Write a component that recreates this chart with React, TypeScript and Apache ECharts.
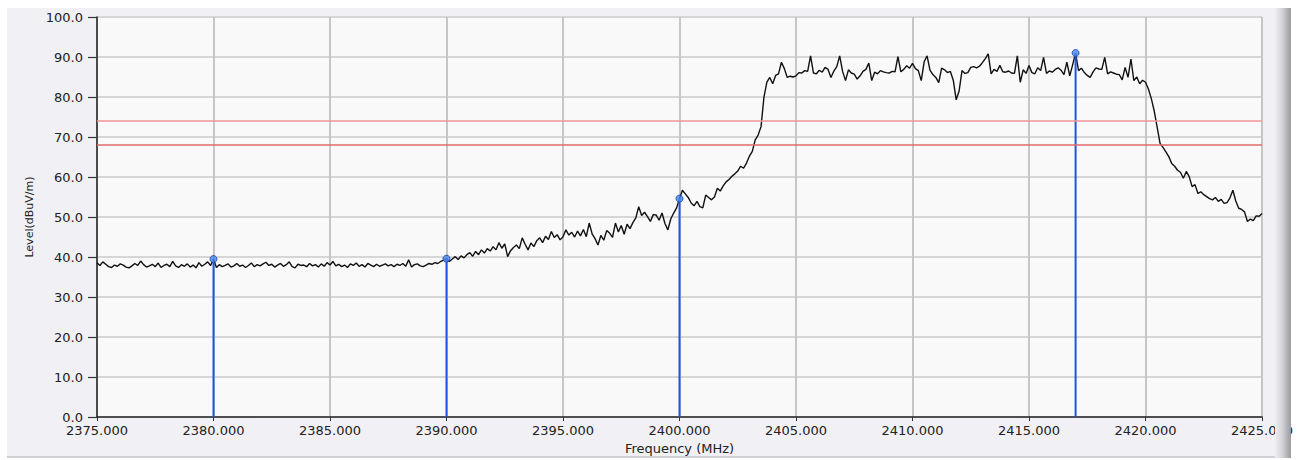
import React, { useEffect, useRef } from "react";
import * as echarts from "echarts";

// Spectrum trace: level (dBuV/m) sampled every 0.125 MHz from 2375 MHz (one row per MHz)
const freqStart = 2375;
const freqStep = 0.125;
const level: number[] = [
  38.6, 37.9, 38.8, 38.2, 37.6, 37.4, 38.0, 37.7, // 2375
  38.3, 38.0, 37.5, 37.3, 37.8, 38.4, 37.9, 39.0, // 2376
  38.1, 37.5, 37.8, 38.2, 37.6, 38.5, 37.4, 37.9, // 2377
  38.2, 37.6, 38.9, 37.8, 37.4, 38.1, 37.7, 38.3, // 2378
  37.5, 38.0, 37.3, 38.6, 37.7, 38.2, 38.8, 37.9, // 2379
  39.5, 37.4, 38.1, 37.6, 37.9, 38.3, 37.5, 37.8, // 2380
  38.4, 37.7, 38.0, 37.4, 37.9, 38.5, 37.6, 38.1, // 2381
  37.8, 38.3, 38.7, 37.9, 38.2, 37.5, 38.0, 38.4, // 2382
  37.7, 38.1, 38.8, 37.6, 37.3, 38.2, 37.9, 38.0, // 2383
  37.6, 38.4, 37.8, 38.1, 37.5, 38.3, 37.7, 38.6, // 2384
  38.0, 38.9, 37.8, 38.2, 37.6, 38.0, 37.4, 38.3, // 2385
  37.9, 38.5, 37.7, 38.1, 37.5, 38.4, 38.0, 37.6, // 2386
  38.2, 37.7, 38.0, 38.3, 37.8, 38.1, 37.6, 38.2, // 2387
  37.9, 38.4, 37.7, 39.3, 37.5, 38.1, 38.3, 37.8, // 2388
  37.6, 38.0, 38.4, 38.2, 38.6, 38.4, 38.9, 39.2, // 2389
  39.6, 38.9, 39.5, 40.1, 39.4, 40.3, 39.8, 40.6, // 2390
  41.1, 40.2, 41.4, 40.6, 41.8, 41.0, 42.1, 41.5, // 2391
  42.6, 41.8, 43.6, 42.2, 43.3, 40.1, 41.6, 42.4, // 2392
  43.0, 42.1, 44.8, 43.2, 41.8, 43.5, 42.6, 44.1, // 2393
  44.8, 43.6, 45.2, 44.4, 46.4, 44.9, 45.6, 44.3, // 2394
  45.1, 46.8, 45.5, 46.2, 45.0, 46.5, 45.3, 46.9, // 2395
  45.1, 48.5, 45.8, 44.6, 43.0, 45.4, 44.2, 46.6, // 2396
  46.0, 44.9, 48.5, 46.3, 47.9, 45.7, 48.2, 47.1, // 2397
  48.6, 49.8, 52.6, 50.4, 51.2, 50.1, 48.9, 50.6, // 2398
  50.5, 49.2, 51.0, 48.4, 46.8, 49.5, 51.0, 52.3, // 2399
  54.6, 56.7, 55.8, 54.9, 53.5, 52.8, 53.9, 52.6, // 2400
  52.3, 55.5, 54.9, 54.3, 55.0, 57.2, 56.5, 57.8, // 2401
  58.8, 59.4, 60.2, 60.8, 61.5, 62.7, 62.2, 63.5, // 2402
  65.2, 66.4, 69.3, 70.5, 72.6, 80.0, 83.7, 84.9, // 2403
  83.3, 85.4, 85.8, 88.7, 87.1, 84.9, 85.2, 85.0, // 2404
  85.3, 86.1, 86.0, 86.6, 86.4, 90.3, 86.0, 85.8, // 2405
  86.7, 86.2, 87.4, 86.9, 84.9, 86.5, 87.6, 90.3, // 2406
  86.4, 84.1, 86.8, 86.0, 85.7, 84.5, 85.3, 86.4, // 2407
  86.9, 88.5, 84.1, 86.2, 85.8, 86.6, 86.3, 86.1, // 2408
  86.0, 86.4, 86.3, 90.1, 86.3, 86.9, 87.8, 87.2, // 2409
  88.4, 87.1, 86.6, 84.1, 88.8, 90.3, 86.7, 85.6, // 2410
  84.9, 83.6, 87.2, 86.8, 86.1, 86.4, 84.2, 79.3, // 2411
  81.5, 86.6, 85.9, 86.1, 87.4, 87.6, 87.3, 87.7, // 2412
  88.6, 89.6, 90.8, 85.8, 86.9, 86.4, 87.9, 86.3, // 2413
  86.2, 86.5, 86.0, 85.9, 90.3, 83.7, 86.8, 85.9, // 2414
  87.9, 86.1, 85.8, 87.3, 86.6, 89.9, 85.9, 86.5, // 2415
  86.2, 86.9, 87.3, 86.7, 85.6, 88.7, 85.3, 88.1, // 2416
  91.0, 86.6, 87.2, 86.1, 85.4, 84.9, 86.3, 87.3, // 2417
  87.0, 86.9, 89.9, 85.8, 86.3, 86.0, 85.7, 85.6, // 2418
  84.3, 87.4, 84.9, 89.5, 84.1, 85.0, 83.3, 84.2, // 2419
  83.7, 82.0, 79.6, 76.5, 72.5, 68.4, 67.4, 66.3, // 2420
  65.1, 63.4, 62.7, 61.7, 61.2, 59.7, 61.4, 60.1, // 2421
  57.6, 58.1, 55.9, 56.3, 55.6, 55.1, 54.6, 54.3, // 2422
  54.9, 53.9, 54.4, 53.4, 53.6, 54.8, 56.7, 54.0, // 2423
  52.2, 51.9, 51.3, 48.9, 49.5, 49.1, 50.3, 50.2, // 2424
  50.9, // 2425
];

// Marker positions (MHz) and levels (dBuV/m)
const markerFreqs = [2380, 2390, 2400, 2417];
const markerLevels = [39.5, 39.6, 54.6, 91.0];

// Limit lines (dBuV/m)
const limitLevels = [74, 68];
const limitColors = ["#f29494", "#e06a6a"];

// Axis settings
const xMin = 2375;
const xMax = 2425;
const xInterval = 5;
const yMin = 0;
const yMax = 100;
const yInterval = 10;

const FONT = "DejaVu Sans";

export default function App() {
  const ref = useRef<HTMLDivElement>(null);

  useEffect(() => {
    if (!ref.current) return;
    const chart = echarts.init(ref.current, undefined, { renderer: "svg" });

    const traceData = level.map((v, i) => [freqStart + i * freqStep, v]);

    const markerLineSeries = markerFreqs.map((f, i) => ({
      type: "line",
      data: [
        [f, yMin],
        [f, markerLevels[i]],
      ],
      symbol: "none",
      lineStyle: { color: "#1f55e0", width: 2 },
      silent: true,
      z: 3,
    }));

    const option: any = {
      animation: false,
      backgroundColor: "transparent",
      grid: {
        left: 97,
        right: 39,
        top: 17,
        bottom: 42,
        show: true,
        backgroundColor: "#f9f9f9",
        borderColor: "#7a7a7a",
        borderWidth: 1,
      },
      xAxis: {
        type: "value",
        min: xMin,
        max: xMax,
        interval: xInterval,
        name: "Frequency (MHz)",
        nameLocation: "middle",
        nameGap: 24,
        nameTextStyle: { fontFamily: FONT, fontSize: 13, color: "#222" },
        axisLine: { show: true, onZero: false, lineStyle: { color: "#222", width: 1.5 } },
        axisTick: { show: true, length: 4, lineStyle: { color: "#333" } },
        axisLabel: {
          margin: 7,
          fontFamily: FONT,
          fontSize: 13,
          color: "#222",
          formatter: (v: number) => v.toFixed(3),
        },
        splitLine: { show: true, lineStyle: { color: "#c6c6c6", width: 2 } },
      },
      yAxis: {
        type: "value",
        min: yMin,
        max: yMax,
        interval: yInterval,
        name: "Level(dBuV/m)",
        nameLocation: "middle",
        nameGap: 62,
        nameTextStyle: { fontFamily: FONT, fontSize: 11, color: "#222" },
        axisLine: { show: true, lineStyle: { color: "#222", width: 1.5 } },
        axisTick: { show: true, length: 9, lineStyle: { color: "#333", width: 1.2 } },
        axisLabel: {
          margin: 14,
          fontFamily: FONT,
          fontSize: 13,
          color: "#222",
          formatter: (v: number) => v.toFixed(1),
        },
        splitLine: { show: true, lineStyle: { color: "#d6d6d6", width: 2 } },
      },
      series: [
        {
          type: "line",
          data: traceData,
          showSymbol: false,
          symbol: "none",
          lineStyle: { color: "#111", width: 1.4 },
          silent: true,
          z: 2,
          markLine: {
            silent: true,
            symbol: "none",
            label: { show: false },
            data: limitLevels.map((l, i) => ({
              yAxis: l,
              lineStyle: { color: limitColors[i], width: 1.5, type: "solid" },
            })),
          },
        },
        ...markerLineSeries,
        {
          type: "scatter",
          data: markerFreqs.map((f, i) => [f, markerLevels[i]]),
          symbol: "circle",
          symbolSize: 7,
          itemStyle: { color: "#4a86ec", borderColor: "#1040b0", borderWidth: 1 },
          silent: true,
          z: 4,
        },
      ],
    };

    chart.setOption(option);
    return () => chart.dispose();
  }, []);

  return (
    <div
      style={{
        position: "fixed",
        left: 0,
        top: 0,
        width: 1301,
        height: 460,
        background: "#ffffff",
        overflow: "hidden",
      }}
    >
      <div
        style={{
          position: "absolute",
          left: 7,
          top: 8,
          width: 1268,
          height: 448,
          background: "#f1f0f5",
          borderBottom: "2px solid #cfcfd4",
        }}
      />
      <div
        ref={ref}
        style={{ position: "absolute", left: 0, top: 0, width: 1301, height: 460 }}
      />
      <div
        style={{
          position: "absolute",
          left: 1275,
          top: 8,
          width: 16,
          height: 450,
          background: "linear-gradient(to right, #eeeef2 0%, #d4d4d8 45%, #9a9a9e 100%)",
          pointerEvents: "none",
        }}
      />
    </div>
  );
}
